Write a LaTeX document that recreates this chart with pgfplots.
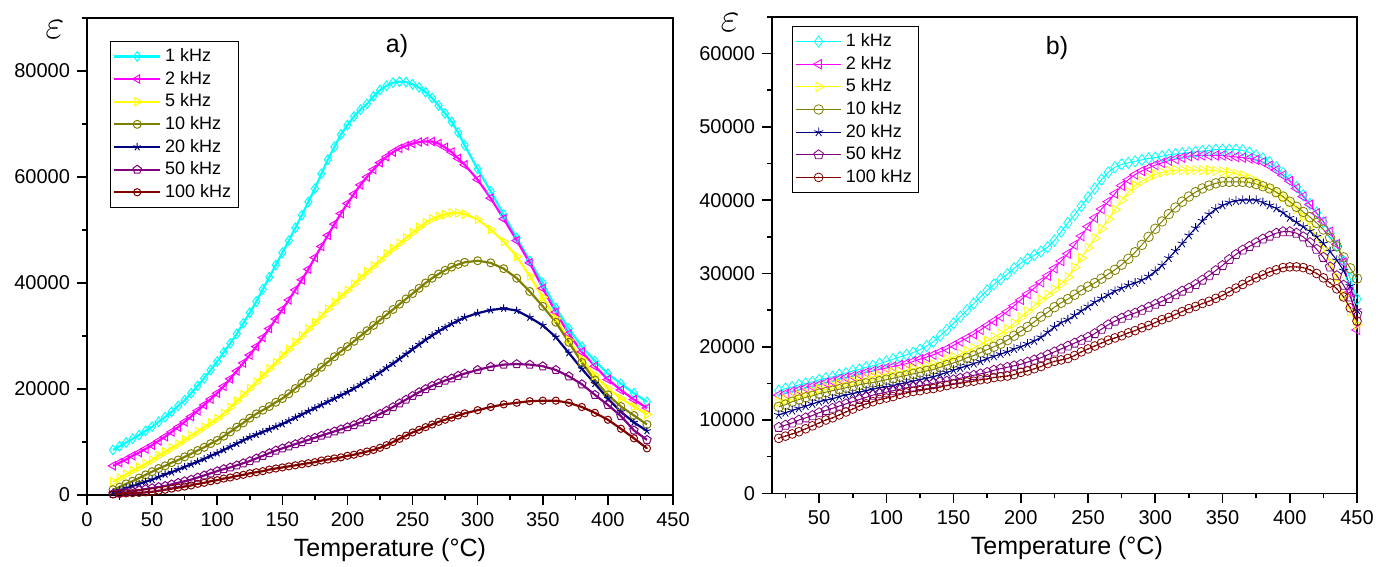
\documentclass[border=0pt]{standalone}
\usepackage{pgfplots}
\pgfplotsset{compat=1.18}
\usepackage{pgfplotstable}
\usepackage{fontspec}
\setmainfont{Liberation Sans}
\usetikzlibrary{plotmarks}

\definecolor{cCy}{RGB}{0,255,255}
\definecolor{cMa}{RGB}{255,0,255}
\definecolor{cYe}{RGB}{255,255,0}
\definecolor{cOl}{RGB}{128,128,0}
\definecolor{cNa}{RGB}{0,0,128}
\definecolor{cPu}{RGB}{128,0,128}
\definecolor{cBr}{RGB}{128,0,0}

\pgfdeclareplotmark{odot}{%
  \pgfpathcircle{\pgfpointorigin}{\pgfplotmarksize}\pgfusepathqstroke
  \pgfpathcircle{\pgfpointorigin}{0.22\pgfplotmarksize}\pgfusepathqfill}

\pgfplotstableread{
T c1 c2 c5 c10 c20 c50 c100
20 8500 5500 2500 1000 500 200 100
25 9200 6100 3200 1500 900 350 200
30 9900 6700 3900 2100 1300 500 300
35 10600 7400 4600 2600 1700 700 350
40 11300 8000 5200 3200 2100 900 400
45 12100 8700 5900 3800 2500 1100 500
50 12900 9400 6600 4400 2900 1300 600
55 13800 10200 7400 5000 3400 1500 800
60 14700 11000 8100 5500 3900 1700 1000
65 15700 11900 8900 6100 4300 2000 1200
70 16800 12800 9600 6600 4800 2300 1400
75 17900 13800 10400 7200 5300 2600 1600
80 19200 14800 11200 7800 5800 2900 1800
85 20600 15900 12000 8400 6300 3300 2100
90 22000 17000 12800 9000 6800 3700 2300
95 23600 18100 13600 9700 7400 4100 2600
100 25200 19200 14400 10300 7900 4500 2800
105 26900 20500 15400 11100 8500 4900 3100
110 28600 21900 16500 11900 9100 5200 3300
115 30400 23400 17700 12800 9700 5600 3600
120 32400 24900 18900 13600 10300 6000 3800
125 34400 26400 20100 14500 10900 6400 4100
130 36500 28000 21300 15300 11400 6900 4300
135 38800 29700 22500 16000 11900 7400 4500
140 41100 31400 23800 16700 12400 7900 4800
145 43400 33200 25000 17500 12900 8400 5000
150 45700 35000 26300 18200 13400 8800 5200
155 48000 36800 27500 19100 14000 9200 5400
160 50400 38700 28800 20100 14600 9600 5600
165 52800 40600 30000 21100 15200 10000 5800
170 55300 42600 31300 22100 15800 10400 6000
175 57800 44800 32500 23100 16400 10800 6200
180 60600 46900 33800 24100 17000 11200 6500
185 63300 49000 35100 25100 17600 11600 6700
190 65700 51100 36300 26100 18200 12000 6900
195 68000 53100 37500 27100 18800 12400 7100
200 69800 55000 38600 28000 19400 12800 7400
205 71400 56800 39800 29000 20100 13200 7600
210 72700 58500 41000 30000 20800 13700 7900
215 73800 60000 42100 31000 21600 14200 8200
220 75200 61400 43200 32000 22300 14700 8500
225 76400 62700 44300 33000 23100 15300 8900
230 77200 63800 45500 34000 24000 15900 9400
235 77800 64700 46500 35000 24800 16600 10000
240 78000 65400 47500 36000 25700 17300 10600
245 77900 65900 48500 37000 26600 18000 11200
250 77500 66300 49500 38000 27500 18700 11800
255 76900 66600 50500 39000 28400 19400 12300
260 76000 66700 51400 40000 29300 20000 12800
265 74900 66700 52100 40900 30100 20600 13300
270 73500 66300 52600 41700 30900 21100 13800
275 72000 65600 52900 42400 31600 21600 14200
280 70400 64700 53200 43000 32300 22000 14600
285 68400 63500 53200 43500 32900 22500 15000
290 66000 62300 53000 43900 33500 22900 15400
300 61500 59500 52000 44200 34300 23600 16000
310 57300 56000 50100 43800 34900 24200 16600
320 52900 52100 47800 42700 35200 24600 17100
330 48500 48000 45000 40900 34800 24700 17400
340 44200 43800 41300 38400 33500 24600 17700
350 40000 39000 37300 35600 32000 24300 17800
360 35300 34500 33300 32600 29800 23600 17800
370 31400 30400 29200 28800 26800 22400 17400
380 28000 27000 25600 25000 23800 20900 16600
390 25300 24300 22600 21700 21000 18900 15500
400 22900 21800 20100 18900 18200 17000 14200
410 21000 19800 18200 16700 15700 14900 12500
420 19200 18000 16700 15000 13700 12200 10700
430 17600 16400 15200 13300 12100 10400 8800
}\leftdata

\pgfplotstableread{
T r1 r2 r5 r10 r20 r50 r100
20 14000 13400 12500 11800 10700 9000 7500
25 14300 13600 12800 12100 11000 9300 7800
30 14500 13900 13100 12500 11300 9600 8100
35 14800 14100 13400 12800 11600 10000 8400
40 15000 14400 13700 13100 11900 10300 8800
45 15200 14600 13900 13300 12200 10600 9200
50 15500 14800 14200 13600 12500 11000 9600
55 15700 15100 14500 13800 12700 11300 10000
60 15900 15300 14700 14000 12900 11600 10300
65 16200 15600 14900 14200 13200 11900 10700
70 16400 15800 15100 14400 13400 12200 11100
75 16700 16000 15300 14600 13600 12500 11500
80 16900 16200 15500 14800 13800 12800 11900
85 17200 16500 15700 15000 14000 13100 12200
90 17400 16700 15900 15100 14200 13400 12500
95 17700 16900 16100 15300 14400 13600 12800
100 18000 17100 16300 15500 14500 13800 13000
105 18300 17300 16500 15700 14700 14000 13200
110 18600 17500 16600 15900 14900 14200 13500
115 18900 17700 16800 16100 15100 14400 13700
120 19200 18000 17000 16300 15300 14500 13900
125 19600 18300 17200 16500 15500 14700 14000
130 20100 18600 17400 16700 15700 14800 14200
135 20700 18900 17600 16900 15900 15000 14300
140 21500 19300 17900 17200 16200 15200 14500
145 22300 19700 18300 17500 16500 15300 14700
150 23200 20200 18600 17800 16800 15500 14900
155 24100 20700 19000 18100 17100 15700 15000
160 25000 21200 19400 18500 17400 15900 15200
165 25900 21700 19800 18800 17700 16100 15300
170 26800 22300 20300 19200 18000 16300 15500
175 27700 22900 20800 19600 18400 16500 15600
180 28500 23500 21300 20000 18700 16800 15800
185 29200 24100 21800 20400 19000 17000 15900
190 29900 24800 22400 20900 19300 17200 16000
195 30700 25600 23200 21500 19700 17400 16200
200 31400 26400 24000 22100 20000 17600 16500
205 32000 27200 24800 22700 20400 17900 16700
210 32500 28000 25600 23400 20800 18200 17000
215 33000 28800 26400 24100 21300 18500 17300
220 33600 29700 27100 24700 22000 18900 17700
225 34500 30700 27800 25400 22700 19300 18000
230 35700 31700 28600 26000 23300 19700 18200
235 36900 32700 29500 26500 23700 20100 18400
240 38000 33900 30800 27100 24300 20500 18800
245 39200 35100 32100 27700 24900 20900 19300
250 40400 36400 33500 28200 25500 21300 19700
255 41600 37600 34800 28700 26100 21800 20100
260 42800 38800 36100 29300 26600 22400 20500
265 43800 39800 37400 29900 27100 23000 20900
270 44500 40900 38700 30500 27600 23500 21200
275 44900 42000 40000 31200 28000 23900 21500
280 45100 42800 41100 32000 28400 24300 21900
285 45300 43500 42000 32900 28700 24600 22200
290 45500 44000 42600 33900 29100 25000 22600
295 45700 44400 43100 35000 29600 25400 22900
300 45800 44800 43500 36100 30300 25800 23300
305 46000 45100 43800 37100 31100 26200 23700
310 46200 45400 44000 38100 32100 26600 24000
315 46300 45600 44100 39000 33100 27100 24400
320 46400 45800 44100 39800 34100 27600 24800
325 46500 46000 44100 40500 35200 28000 25200
330 46600 46100 44100 41100 36200 28500 25500
335 46700 46100 44100 41600 37200 29100 25900
340 46800 46100 44100 42000 38100 29700 26200
345 46900 46100 44000 42300 38800 30400 26600
350 46900 46100 43900 42500 39300 31100 27000
355 46900 46000 43800 42500 39700 31900 27500
360 46900 45900 43600 42500 39900 32600 28000
365 46800 45800 43400 42500 40000 33200 28500
370 46500 45700 43000 42400 40000 33700 29000
375 46100 45500 42600 42200 40000 34200 29400
380 45700 45200 42100 41900 39700 34700 29800
385 45200 44700 41600 41600 39300 35100 30200
390 44500 44100 41000 41100 38900 35500 30500
395 43700 43400 40400 40500 38300 35700 30800
400 42800 42600 39700 39800 37600 35700 30900
405 41800 41600 38800 39100 37000 35500 30900
410 40700 40500 37700 38400 36400 35000 30800
415 39500 39400 36500 37700 35800 34200 30500
420 38300 38200 35000 36900 35000 33300 30000
425 37000 37100 33400 36000 34100 32200 29400
430 35500 35700 31500 34900 33000 30900 28700
435 33800 34000 29500 33700 31800 29700 27900
440 31700 31500 27000 32200 30400 28400 26800
445 29300 27500 24800 30700 28300 26800 25300
450 26500 22300 23000 29300 25000 24500 23500
}\rightdata

\pgfplotsset{
  panel/.style={
    scale only axis,
    anchor=south west,
    axis line style={line width=0.8pt},
    tick align=outside, tick pos=left,
    major tick length=5pt, minor tick length=2.5pt,
    every tick/.style={black, line width=0.8pt},
    scaled ticks=false,
    /pgf/number format/1000 sep={},
    /pgf/number format/assume math mode=true,
    tick label style={font=\fontsize{10}{12}\selectfont},
    label style={font=\fontsize{12.5}{14}\selectfont},
    legend cell align=left,
    legend style={font=\fontsize{9}{10}\selectfont, draw=black, line width=0.5pt,
      anchor=north west, inner sep=1.5pt, row sep=-0.7pt},
    legend image code/.code={\draw[mark repeat=2,mark phase=2,##1]
      plot coordinates {(0cm,0cm) (0.4cm,0cm) (0.8cm,0cm)};},
  }
}

\begin{document}
\begin{tikzpicture}
\useasboundingbox (0,0) rectangle (695.5pt,283.5pt);
\begin{axis}[panel, name=L,
  at={(43.5pt,36pt)}, width=293pt, height=238.5pt,
  xmin=0, xmax=450, ymin=0, ymax=90000,
  xtick={0,50,...,450}, minor xtick={25,75,...,425},
  ytick={0,20000,...,80000}, minor ytick={10000,30000,...,90000},
  xlabel={Temperature (°C)},
  xlabel style={at={(axis description cs:0.517,-0.115)}, anchor=center},
  legend style={at={(axis description cs:0.039,0.952)}},
  every axis plot/.append style={line width=1.1pt},
]
\addplot[cCy, mark=diamond, mark size=2.4pt, mark options={solid, fill=none, line width=0.5pt}] table[x=T,y=c1]{\leftdata};
\addlegendentry{1 kHz}
\addplot[cMa, mark=triangle, mark size=2.4pt, mark options={solid, fill=none, line width=0.5pt, rotate=90}] table[x=T,y=c2]{\leftdata};
\addlegendentry{2 kHz}
\addplot[cYe, mark=triangle, mark size=2.4pt, mark options={solid, fill=none, line width=0.5pt, rotate=-90}] table[x=T,y=c5]{\leftdata};
\addlegendentry{5 kHz}
\addplot[cOl, mark=o, mark size=2pt, mark options={solid, fill=none, line width=0.5pt}] table[x=T,y=c10]{\leftdata};
\addlegendentry{10 kHz}
\addplot[cNa, mark=star, mark size=2pt, mark options={solid, line width=0.5pt}] table[x=T,y=c20]{\leftdata};
\addlegendentry{20 kHz}
\addplot[cPu, mark=pentagon, mark size=2.2pt, mark options={solid, fill=none, line width=0.5pt}] table[x=T,y=c50]{\leftdata};
\addlegendentry{50 kHz}
\addplot[cBr, mark=odot, mark size=1.8pt, mark options={solid, fill=none, line width=0.5pt}] table[x=T,y=c100]{\leftdata};
\addlegendentry{100 kHz}
\end{axis}
\node at ([xshift=-16pt,yshift=-6pt]L.north west) {\fontsize{20}{20}\selectfont$\varepsilon$};
\node[font=\fontsize{12.5}{14}\selectfont] at ([xshift=155pt,yshift=-14pt]L.north west) {a)};

\begin{axis}[panel, name=R,
  at={(386pt,36.85pt)}, width=292.5pt, height=238.15pt,
  xmin=15, xmax=450, ymin=0, ymax=65000,
  xtick={50,100,...,450}, minor xtick={25,75,...,425},
  ytick={0,10000,...,60000}, minor ytick={5000,15000,...,65000},
  xlabel={Temperature (°C)},
  xlabel style={at={(axis description cs:0.504,-0.115)}, anchor=center},
  legend style={at={(axis description cs:0.034,0.981)}},
  every axis plot/.append style={line width=0.5pt},
]
\addplot[cCy, mark=diamond, mark size=2.8pt, mark options={solid, fill=none, line width=0.4pt}] table[x=T,y=r1]{\rightdata};
\addlegendentry{1 kHz}
\addplot[cMa, mark=triangle, mark size=2.7pt, mark options={solid, fill=none, line width=0.4pt, rotate=90}] table[x=T,y=r2]{\rightdata};
\addlegendentry{2 kHz}
\addplot[cYe, mark=triangle, mark size=2.7pt, mark options={solid, fill=none, line width=0.4pt, rotate=-90}] table[x=T,y=r5]{\rightdata};
\addlegendentry{5 kHz}
\addplot[cOl, mark=o, mark size=2.4pt, mark options={solid, fill=none, line width=0.4pt}] table[x=T,y=r10]{\rightdata};
\addlegendentry{10 kHz}
\addplot[cNa, mark=star, mark size=2.4pt, mark options={solid, line width=0.4pt}] table[x=T,y=r20]{\rightdata};
\addlegendentry{20 kHz}
\addplot[cPu, mark=pentagon, mark size=2.5pt, mark options={solid, fill=none, line width=0.4pt}] table[x=T,y=r50]{\rightdata};
\addlegendentry{50 kHz}
\addplot[cBr, mark=odot, mark size=2.2pt, mark options={solid, fill=none, line width=0.4pt}] table[x=T,y=r100]{\rightdata};
\addlegendentry{100 kHz}
\end{axis}
\node at ([xshift=-21pt,yshift=-3pt]R.north west) {\fontsize{20}{20}\selectfont$\varepsilon$};
\node[font=\fontsize{12.5}{14}\selectfont] at ([xshift=142.5pt,yshift=-15.5pt]R.north west) {b)};
\end{tikzpicture}
\end{document}
